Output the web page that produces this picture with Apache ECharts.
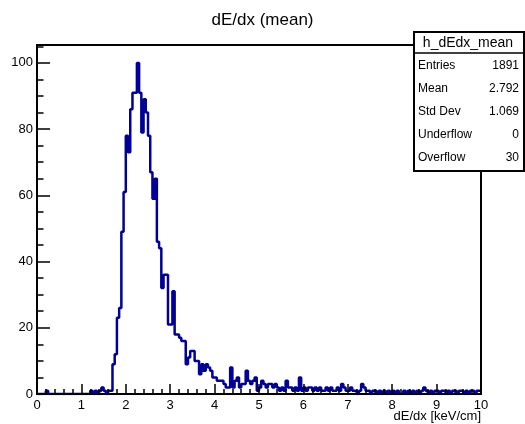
<!DOCTYPE html>
<html>
<head>
<meta charset="utf-8">
<script src="https://cdn.jsdelivr.net/npm/echarts@6/dist/echarts.min.js"></script>
<style>
html,body{margin:0;padding:0;background:#fff;}
#chart{width:525px;height:424px;}
</style>
</head>
<body>
<div id="chart"></div>
<script>
// Histogram definition
const title = "dE/dx (mean)";
const xAxisTitle = "dE/dx [keV/cm]";
const xMin = 0, xMax = 10, nBins = 200;
const yMax = 105.4;
// bin contents (200 bins of 0.05 keV/cm)
const counts = [
  0,0,0,0,1,0,0,0,0,0,           // 0.00-0.45
  0,0,0,0,0,0,0,0,0,0,           // 0.50-0.95
  0,0,0,0,1,0,1,0,1,2,           // 1.00-1.45
  1,0,1,1,9,12,23,26,49,61,      // 1.50-1.95
  78,73,86,91,91,100,91,79,89,85,// 2.00-2.45
  78,67,59,65,46,44,32,36,36,21, // 2.50-2.95
  21,31,18,18,17,16,16,9,11,13,  // 3.00-3.45
  13,10,10,6,9,7,9,8,7,5,        // 3.50-3.95
  5,4,4,4,3,2,2,8,2,4,           // 4.00-4.45
  5,2,3,3,7,4,3,4,5,1,           // 4.50-4.95
  2,4,3,2,3,3,2,3,2,1,           // 5.00-5.45
  2,1,4,2,2,1,2,1,5,1,           // 5.50-5.95
  2,1,2,2,1,2,1,2,1,1,           // 6.00-6.45
  2,1,2,1,1,2,1,3,2,1,           // 6.50-6.95
  1,2,1,1,0,1,3,2,1,1,           // 7.00-7.45
  0,1,1,0,1,0,1,0,1,0,           // 7.50-7.95
  1,0,1,0,0,1,0,1,0,1,           // 8.00-8.45
  0,1,0,1,2,1,0,1,0,1,           // 8.50-8.95
  1,0,1,1,0,1,0,1,1,0,           // 9.00-9.45
  1,1,0,1,0,1,1,0,1,1            // 9.50-9.95
];
// stats box
const statsName = "h_dEdx_mean";
const statsLabels = ["Entries","Mean","Std Dev","Underflow","Overflow"];
const statsValues = ["1891","2.792","1.069","0","30"];

const binW = (xMax - xMin) / nBins;
const stepData = counts.map((c, i) => [xMin + i * binW, c]);
stepData.push([xMax, counts[counts.length - 1]]);

const chart = echarts.init(document.getElementById('chart'), null, {renderer:'canvas'});
const font = "Liberation Sans, Arial, Helvetica, sans-serif";

const graphics = [];
// x axis title
graphics.push({type:'text', right: 44, top: 410, style:{text:xAxisTitle, font:"13px " + font, fill:'#000', textAlign:'right'}});
// stats box
const bx = 413, by = 31, bw = 110, bh = 139, th = 22, rowH = 23;
graphics.push({type:'rect', left:bx, top:by, z:100, shape:{x:0,y:0,width:bw,height:bh}, style:{fill:'#fff', stroke:'#000', lineWidth:2}});
graphics.push({type:'line', z:101, shape:{x1:bx, y1:by+th, x2:bx+bw, y2:by+th}, style:{stroke:'#000', lineWidth:1.5}});
graphics.push({type:'text', z:102, x: bx + bw/2, y: by + th/2 + 1, style:{text:statsName, font:"14px " + font, fill:'#000', textAlign:'center', textVerticalAlign:'middle'}});
statsLabels.forEach((lab, i) => {
  const cy = by + th + 13 + i * rowH;
  graphics.push({type:'text', z:102, x: bx + 5, y: cy, style:{text:lab, font:"12px " + font, fill:'#000', textAlign:'left', textVerticalAlign:'middle'}});
  graphics.push({type:'text', z:102, x: bx + bw - 4, y: cy, style:{text:statsValues[i], font:"12px " + font, fill:'#000', textAlign:'right', textVerticalAlign:'middle'}});
});

chart.setOption({
  animation: false,
  backgroundColor: '#fff',
  title: {text: title, left: 'center', top: 7, textStyle:{fontFamily: font, fontSize: 17, fontWeight:'normal', color:'#000'}},
  grid: {left: 37, right: 44, top: 45, bottom: 30, show: true, borderColor:'#000', borderWidth: 2, backgroundColor:'transparent'},
  xAxis: {
    type:'value', min: xMin, max: xMax, interval: 1, z: 5,
    axisLine:{show:true, onZero:false, lineStyle:{color:'#000', width:2}},
    axisTick:{show:true, inside:true, length:10, lineStyle:{color:'#000', width:1.5}},
    minorTick:{show:true, splitNumber:5, length:5, lineStyle:{color:'#000', width:1.5}},
    splitLine:{show:false},
    axisLabel:{color:'#000', fontFamily:font, fontSize:13, margin:5}
  },
  yAxis: {
    type:'value', min: 0, max: yMax, interval: 20, z: 5,
    axisLine:{show:true, onZero:false, lineStyle:{color:'#000', width:2}},
    axisTick:{show:true, inside:true, length:13, lineStyle:{color:'#000', width:1.5}},
    minorTick:{show:true, splitNumber:4, length:6.5, lineStyle:{color:'#000', width:1.5}},
    splitLine:{show:false},
    axisLabel:{color:'#000', fontFamily:font, fontSize:13, margin:4, showMaxLabel:false}
  },
  series: [{
    type:'line', step:'end', data: stepData, symbol:'none', z: 2,
    lineStyle:{color:'#000099', width:2.5}
  }],
  graphic: graphics
});
</script>
</body>
</html>
